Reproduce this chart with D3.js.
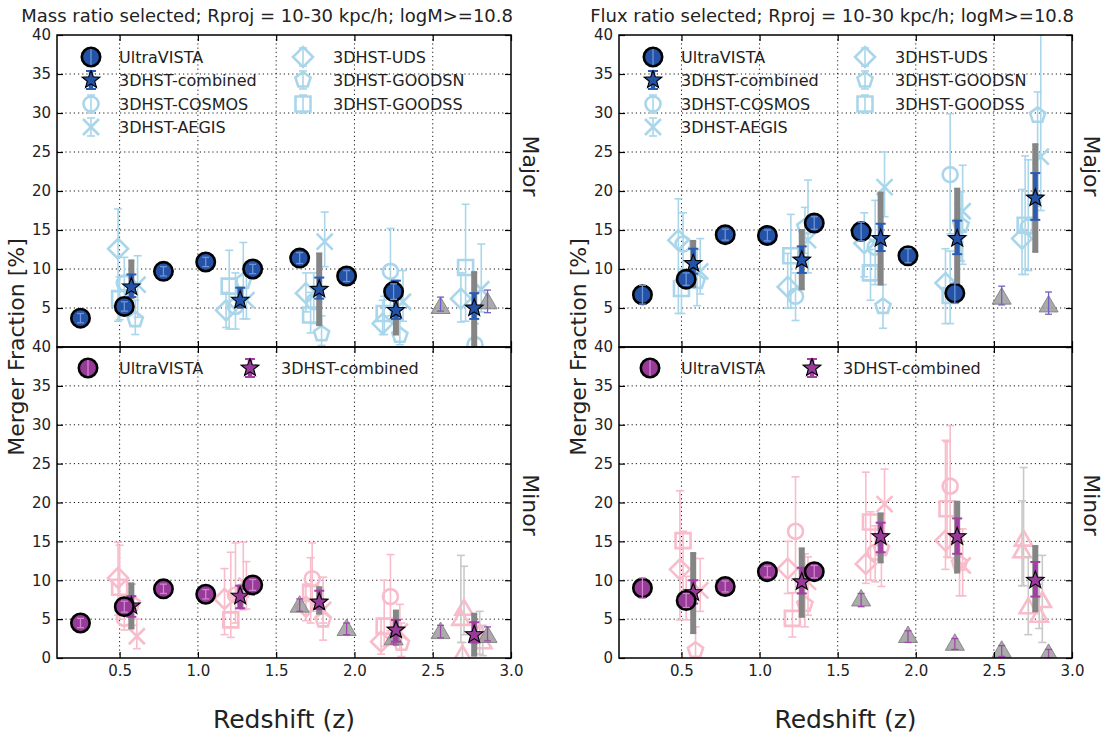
<!DOCTYPE html>
<html>
<head>
<meta charset="utf-8">
<script src="https://cdn.jsdelivr.net/npm/d3@7"></script>
<style>
  body { margin: 0; background: #fff; }
  text { font-family: "DejaVu Sans", sans-serif; fill: #222; }
</style>
</head>
<body>
<svg id="chart" width="1108" height="738"></svg>
<script>
// ---------------- data ----------------
const xTickValues = [0.5, 1.0, 1.5, 2.0, 2.5, 3.0];
const yTickValues = [0, 5, 10, 15, 20, 25, 30, 35, 40];

// UltraVISTA merger fractions [%]
const uvZ = [0.25, 0.53, 0.78, 1.05, 1.35, 1.65, 1.95, 2.25];
const uvMassMajor = [3.7, 5.2, 9.7, 10.9, 10.0, 11.4, 9.1, 7.1];
const uvMassMajorErr = [0.6, 0.6, 0.6, 0.6, 0.6, 0.7, 0.7, 1.0];
const uvMassMinor = [4.5, 6.6, 8.9, 8.2, 9.4];
const uvMassMinorErr = [0.6, 0.7, 0.6, 0.6, 0.7];
const uvFluxMajor = [6.7, 8.7, 14.4, 14.3, 15.9, 14.8, 11.7, 6.9];
const uvFluxMajorErr = [1.2, 0.8, 0.7, 0.7, 0.8, 1.2, 0.9, 1.3];
const uvFluxMinor = [9.0, 7.4, 9.2, 11.1, 11.1];
const uvFluxMinorErr = [1.3, 0.9, 0.7, 0.7, 0.8];

// 3DHST combined: [value, lo, hi] and systematic range [lo, hi]
const combZ = [0.575, 1.27, 1.775, 2.265, 2.765];
const combMassMajor = [[7.7, 6.4, 9.3], [6.0, 5.1, 7.6], [7.4, 6.2, 8.9], [4.7, 3.6, 8.5], [5.0, 3.6, 6.9]];
const combMassMajorSys = [[6.3, 11.1], [5.0, 7.6], [2.8, 12.0], [1.6, 8.5], [0, 9.6]];
const combMassMinor = [[6.7, 5.3, 7.95], [7.95, 6.4, 9.3], [7.2, 6.3, 8.65], [3.6, 2.1, 4.9], [3.0, 2.0, 4.6]];
const combMassMinorSys = [[3.8, 9.6], [6.4, 9.3], [5.7, 9.1], [1.7, 6.1], [0.3, 5.7]];
const combFluxMajor = [[10.7, 9.4, 12.6], [11.15, 9.5, 12.9], [13.9, 12.3, 15.8], [13.9, 11.9, 16.2], [19.1, 16.3, 22.3]];
const combFluxMajorSys = [[7.7, 13.6], [7.4, 15.0], [8.0, 19.8], [6.9, 20.3], [12.2, 26.0]];
const combFluxMinor = [[8.4, 7.0, 10.0], [9.8, 8.3, 11.6], [15.6, 13.6, 17.4], [15.6, 13.4, 17.95], [10.0, 7.9, 12.35]];
const combFluxMinorSys = [[3.2, 13.5], [5.3, 14.1], [12.3, 18.6], [11.0, 20.1], [6.0, 14.4]];

// individual 3DHST fields: [z, value, lo, hi]
const cosmosMassMajor = [[0.53, 8.2, 4.0, 11.5], [1.24, 5.2, 2.3, 9.5], [1.74, 5.8, 3.0, 9.5], [2.23, 9.7, 4.0, 15.2], [2.77, 0.3, 0, 3.0]];
const aegisMassMajor = [[0.615, 8.0, 3.8, 11.7], [1.31, 6.0, 3.6, 9.5], [1.81, 13.5, 10.3, 17.3], [2.31, 5.8, 3.3, 9.8], [2.81, 7.4, 4.5, 13.2]];
const udsMassMajor = [[0.49, 12.6, 3.3, 17.7], [1.18, 4.7, 2.5, 7.0], [1.69, 6.9, 4.5, 9.5], [2.18, 3.0, 1.6, 6.0], [2.68, 6.2, 3.2, 9.5]];
const goodsnMassMajor = [[0.60, 3.5, 1.6, 6.0], [1.29, 8.4, 3.6, 13.4], [1.79, 1.7, 0.2, 4.0], [2.29, 1.5, 0.3, 3.5]];
const goodssMassMajor = [[0.50, 6.2, 3.5, 9.0], [1.20, 7.8, 2.3, 12.4], [1.72, 4.1, 1.8, 7.0], [2.19, 4.3, 1.6, 6.5], [2.71, 10.2, 3.3, 18.3]];

const cosmosMassMinor = [[0.53, 5.1, 3.6, 8.0], [1.24, 8.1, 4.5, 14.8], [1.73, 10.2, 6.0, 14.8], [2.23, 7.9, 3.5, 13.3]];
const aegisMassMinor = [[0.61, 2.8, 1.2, 5.0], [1.31, 9.3, 6.3, 12.4], [1.80, 6.2, 4.5, 10.4], [2.29, 3.4, 1.0, 6.9]];
const udsMassMinor = [[0.49, 10.3, 5.5, 14.9], [1.17, 7.6, 3.0, 11.5], [1.69, 6.6, 4.8, 9.5], [2.17, 2.1, 0.5, 5.0]];
const goodsnMassMinor = [[0.58, 7.0, 4.2, 9.5], [1.29, 8.7, 6.2, 14.9], [1.80, 4.9, 2.3, 7.5], [2.30, 1.9, 0.2, 4.5]];
const goodssMassMinor = [[0.50, 9.1, 5.0, 14.5], [1.21, 4.9, 2.65, 13.6], [1.72, 8.3, 4.5, 12.9], [2.19, 4.1, 1.5, 10.0]];
const highZMassMinor = [[2.70, 6.2, 3.0, 11.8], [2.68, 4.9, 2.0, 13.2], [2.69, 0.3, 0, 2.0], [2.82, 1.9, 0.3, 4.2], [2.80, 3.0, 0.5, 6.0]];

const cosmosFluxMajor = [[0.51, 13.2, 8.0, 17.2], [1.23, 6.5, 3.4, 9.5], [1.74, 12.8, 8.0, 18.8], [2.22, 22.1, 14.5, 29.9], [2.72, 15.4, 9.8, 24.0]];
const aegisFluxMajor = [[0.62, 9.7, 6.8, 13.9], [1.31, 13.7, 9.5, 21.4], [1.80, 20.5, 16.7, 25.0], [2.30, 17.4, 10.6, 23.3], [2.80, 24.4, 17.5, 40.0]];
const udsFluxMajor = [[0.48, 13.7, 4.3, 19.0], [1.18, 7.7, 5.0, 12.0], [1.67, 13.3, 9.0, 17.2], [2.19, 8.2, 3.0, 12.6], [2.68, 13.9, 9.3, 20.2]];
const goodsnFluxMajor = [[0.60, 8.4, 5.3, 12.5], [1.29, 15.4, 12.0, 17.9], [1.79, 5.2, 2.4, 8.0], [2.29, 15.6, 11.0, 19.9], [2.78, 29.7, 18.0, 32.7]];
const goodssFluxMajor = [[0.50, 7.5, 4.3, 10.0], [1.20, 11.7, 5.0, 17.0], [1.71, 9.5, 6.0, 12.5], [2.22, 6.6, 3.0, 12.3], [2.70, 15.6, 9.3, 24.5]];

const cosmosFluxMinor = [[0.53, 7.4, 4.9, 10.5], [1.23, 16.3, 8.4, 23.3], [1.74, 13.6, 9.8, 17.0], [2.22, 22.1, 12.9, 29.9]];
const aegisFluxMinor = [[0.62, 8.7, 6.0, 12.8], [1.31, 9.8, 5.5, 13.0], [1.80, 19.8, 16.0, 24.3], [2.30, 11.9, 8.0, 16.6]];
const udsFluxMinor = [[0.49, 11.4, 4.9, 21.5], [1.18, 11.5, 8.3, 15.0], [1.68, 12.1, 9.6, 23.9], [2.19, 15.1, 11.4, 28.0]];
const goodsnFluxMinor = [[0.59, 1.0, 0, 4.0], [1.29, 6.9, 4.0, 13.4], [1.78, 14.1, 9.2, 18.5], [2.28, 12.2, 8.0, 16.6]];
const goodssFluxMinor = [[0.51, 15.1, 8.0, 16.3], [1.21, 5.1, 2.7, 8.4], [1.71, 17.5, 10.0, 18.8], [2.20, 19.2, 13.0, 27.8]];
const highZFluxMinor = [[2.69, 15.1, 9.3, 24.5], [2.68, 13.6, 9.3, 20.2], [2.72, 6.4, 3.0, 13.0], [2.81, 7.2, 2.0, 13.2], [2.79, 5.3, 3.8, 9.5]];

// reference sample (grey triangles): [value, lo, hi]
const refZMajor = [2.55, 2.85];
const refMassMajor = [[5.0, 4.6, 6.4], [5.6, 4.4, 7.3]];
const refFluxMajor = [[6.2, 5.4, 7.8], [5.2, 4.2, 7.05]];
const refZMinor = [1.65, 1.95, 2.25, 2.55, 2.85];
const refMassMinor = [[6.6, 6.0, 7.6], [3.6, 3.0, 4.5], [2.4, 1.8, 3.2], [3.2, 2.6, 4.2], [2.7, 2.2, 4.0]];
const refFluxMinor = [[7.4, 6.6, 8.3], [2.7, 2.0, 3.5], [1.7, 1.1, 2.5], [0.8, 0.2, 1.6], [0.4, 0, 1.1]];

const fieldNames = ["3DHST-COSMOS", "3DHST-AEGIS", "3DHST-UDS", "3DHST-GOODSN", "3DHST-GOODSS"];
const fieldShapes = ["circle", "x", "diamond", "pentagon", "square"];
const titles = ["Mass ratio selected; Rproj = 10-30 kpc/h; logM>=10.8",
                "Flux ratio selected; Rproj = 10-30 kpc/h; logM>=10.8"];
const rowNames = ["Major", "Minor"];

// ---------------- layout / style ----------------
const COLS = [[57, 511], [619, 1072]];
const ROWS = [[35, 347], [347, 658]];
const fieldSize = { circle: 7.5, x: 8, diamond: 10, pentagon: 8, square: 7.5, triangle: 9 };
const UV_R = 9.2, STAR_R = 9.3, REF_R = 11;
const palettes = [
  { main: "#2352a6", bar: "#2b5cb4", line: "#6d95d6", light: "#a9d6ea", refErr: "#6e62c0" },
  { main: "#983a98", bar: "#a23ea4", line: "#cf86cf", light: "#f8bccb", refErr: "#a247ad" }
];

const panels = [
  { col: 0, row: 0, uv: uvMassMajor, uvErr: uvMassMajorErr, comb: combMassMajor, sys: combMassMajorSys,
    refZ: refZMajor, ref: refMassMajor, fields: [cosmosMassMajor, aegisMassMajor, udsMassMajor, goodsnMassMajor, goodssMassMajor], highZ: [] },
  { col: 0, row: 1, uv: uvMassMinor, uvErr: uvMassMinorErr, comb: combMassMinor, sys: combMassMinorSys,
    refZ: refZMinor, ref: refMassMinor, fields: [cosmosMassMinor, aegisMassMinor, udsMassMinor, goodsnMassMinor, goodssMassMinor], highZ: highZMassMinor },
  { col: 1, row: 0, uv: uvFluxMajor, uvErr: uvFluxMajorErr, comb: combFluxMajor, sys: combFluxMajorSys,
    refZ: refZMajor, ref: refFluxMajor, fields: [cosmosFluxMajor, aegisFluxMajor, udsFluxMajor, goodsnFluxMajor, goodssFluxMajor], highZ: [] },
  { col: 1, row: 1, uv: uvFluxMinor, uvErr: uvFluxMinorErr, comb: combFluxMinor, sys: combFluxMinorSys,
    refZ: refZMinor, ref: refFluxMinor, fields: [cosmosFluxMinor, aegisFluxMinor, udsFluxMinor, goodsnFluxMinor, goodssFluxMinor], highZ: highZFluxMinor }
];

const svg = d3.select("#chart");

// marker outlines centred on (0,0)
function shapePath(type, r) {
  const poly = (n, rot, rr) => {
    const pts = [];
    for (let i = 0; i < n; i++) {
      const a = rot + i * 2 * Math.PI / n;
      const rad = Array.isArray(rr) ? rr[i % 2] : rr;
      pts.push([rad * Math.cos(a), rad * Math.sin(a)]);
    }
    return "M" + pts.map(p => p[0].toFixed(2) + "," + p[1].toFixed(2)).join("L") + "Z";
  };
  switch (type) {
    case "circle": return `M${r},0A${r},${r} 0 1,1 ${-r},0A${r},${r} 0 1,1 ${r},0Z`;
    case "diamond": return `M0,${-r}L${r},0L0,${r}L${-r},0Z`;
    case "square": return `M${-r},${-r}H${r}V${r}H${-r}Z`;
    case "x": return `M${-r},${-r}L${r},${r}M${-r},${r}L${r},${-r}`;
    case "pentagon": return poly(5, -Math.PI / 2, r);
    case "triangle": return poly(3, -Math.PI / 2, r);
    case "star": return poly(10, -Math.PI / 2, [r, r * 0.42]);
  }
}

function errBar(g, cx, yA, yB, color, width, cap, capWidth) {
  g.append("line").attr("x1", cx).attr("x2", cx).attr("y1", yA).attr("y2", yB)
    .attr("stroke", color).attr("stroke-width", width);
  if (cap > 0) {
    [yA, yB].forEach(yy => g.append("line")
      .attr("x1", cx - cap).attr("x2", cx + cap).attr("y1", yy).attr("y2", yy)
      .attr("stroke", color).attr("stroke-width", capWidth || 1.5));
  }
}

function marker(g, cx, cy, type, r, fill, stroke, sw) {
  g.append("path").attr("d", shapePath(type, r))
    .attr("transform", `translate(${cx},${cy})`)
    .attr("fill", fill).attr("stroke", stroke).attr("stroke-width", sw)
    .attr("stroke-linejoin", "miter");
}

panels.forEach((p, pi) => {
  const [x0, x1] = COLS[p.col];
  const [y0, y1] = ROWS[p.row];
  const pal = palettes[p.row];
  const x = d3.scaleLinear().domain([0.1, 3.0]).range([x0, x1]);
  const y = d3.scaleLinear().domain([0, 40]).range([y1, y0]);

  const g = svg.append("g");
  const clipId = "clip" + pi;
  svg.append("clipPath").attr("id", clipId)
    .append("rect").attr("x", x0).attr("y", y0).attr("width", x1 - x0).attr("height", y1 - y0);

  // dotted grid
  const grid = g.append("g").attr("stroke", "#000").attr("stroke-width", 0.9).attr("stroke-dasharray", "1.2,3");
  xTickValues.filter(v => v < 3).forEach(v =>
    grid.append("line").attr("x1", x(v)).attr("x2", x(v)).attr("y1", y0).attr("y2", y1));
  yTickValues.filter(v => v > 0 && v < 40).forEach(v =>
    grid.append("line").attr("x1", x0).attr("x2", x1).attr("y1", y(v)).attr("y2", y(v)));

  const plot = g.append("g").attr("clip-path", `url(#${clipId})`);

  // individual fields (open markers)
  p.fields.forEach((rows, fi) => {
    const shp = fieldShapes[fi];
    rows.forEach(([z, v, lo, hi]) => {
      errBar(plot, x(z), y(hi), y(lo), pal.light, 1.6, 4, 1.6);
      marker(plot, x(z), y(v), shp, fieldSize[shp], "none", pal.light, 2.6);
    });
  });
  // highest redshift bin drawn as open triangles
  p.highZ.forEach(([z, v, lo, hi]) => {
    errBar(plot, x(z), y(hi), y(lo), "#c9c9c9", 1.6, 4, 1.6);
    marker(plot, x(z), y(v), "triangle", fieldSize.triangle + 1, "none", pal.light, 2.6);
  });

  // systematic range of the combined sample
  p.sys.forEach(([lo, hi], i) => {
    errBar(plot, x(combZ[i]), y(hi), y(lo), "#858585", 6, 3, 2);
  });

  // reference sample (grey triangles)
  p.ref.forEach(([v, lo, hi], i) => {
    marker(plot, x(p.refZ[i]), y(v), "triangle", REF_R, "rgba(150,150,150,0.8)", "rgba(125,125,125,0.85)", 1);
    errBar(plot, x(p.refZ[i]), y(hi), y(lo), pal.refErr, 1.3, 3.5, 1.3);
  });

  // combined sample
  p.comb.forEach(([v, lo, hi], i) => {
    errBar(plot, x(combZ[i]), y(hi), y(lo), pal.bar, 4.5, 5, 2);
    marker(plot, x(combZ[i]), y(v), "star", STAR_R, pal.main, "#000", 1.1);
  });

  // UltraVISTA
  p.uv.forEach((v, i) => {
    marker(plot, x(uvZ[i]), y(v), "circle", UV_R, pal.main, "#000", 2.6);
    errBar(plot, x(uvZ[i]), y(v + p.uvErr[i]), y(v - p.uvErr[i]), pal.line, 1.3, 3.5, 1.3);
  });

  // axes with inward ticks
  const styleAxis = sel => {
    sel.select(".domain").remove();
    sel.selectAll(".tick line").attr("stroke", "#000").attr("stroke-width", 1.2);
    sel.selectAll("text").attr("font-size", 15).attr("font-family", "DejaVu Sans, sans-serif").attr("fill", "#222");
  };
  g.append("g").attr("transform", `translate(${x0},0)`)
    .call(d3.axisLeft(y).tickValues(yTickValues).tickSizeInner(-6).tickSizeOuter(0).tickPadding(6)
      .tickFormat(d => (p.row === 0 && d === 0) ? "" : d3.format("d")(d)))
    .call(styleAxis);
  g.append("g").attr("transform", `translate(${x1},0)`)
    .call(d3.axisRight(y).tickValues(yTickValues).tickSizeInner(-6).tickSizeOuter(0).tickFormat(""))
    .call(styleAxis);
  g.append("g").attr("transform", `translate(0,${y0})`)
    .call(d3.axisTop(x).tickValues(xTickValues).tickSizeInner(-6).tickSizeOuter(0).tickFormat(""))
    .call(styleAxis);
  g.append("g").attr("transform", `translate(0,${y1})`)
    .call(d3.axisBottom(x).tickValues(xTickValues).tickSizeInner(-6).tickSizeOuter(0).tickPadding(7)
      .tickFormat(p.row === 1 ? d3.format(".1f") : ""))
    .call(styleAxis);

  g.append("rect").attr("x", x0).attr("y", y0).attr("width", x1 - x0).attr("height", y1 - y0)
    .attr("fill", "none").attr("stroke", "#000").attr("stroke-width", 1.5);

  // row label on the right
  g.append("text").attr("transform", `translate(${x1 + 12},${p.row === 0 ? 166 : 505}) rotate(90)`)
    .attr("text-anchor", "middle").attr("font-size", 22).text(rowNames[p.row]);

  // legend
  const lg = g.append("g");
  const legendEntry = (mx, tx, cy, draw, label) => {
    draw(mx, cy);
    lg.append("text").attr("x", tx).attr("y", cy).attr("dy", "0.36em").attr("font-size", 16).text(label);
  };
  const drawUV = (mx, cy) => {
    marker(lg, mx, cy, "circle", UV_R, pal.main, "#000", 2.6);
    errBar(lg, mx, cy - 8, cy + 8, pal.line, 1.3, 0, 0);
  };
  const drawComb = (mx, cy) => {
    errBar(lg, mx, cy - 9, cy + 9, pal.bar, 4.5, 5, 2);
    marker(lg, mx, cy, "star", STAR_R, pal.main, "#000", 1.1);
  };
  if (p.row === 0) {
    const rowY = [22, 45, 69, 92].map(d => y0 + d);
    legendEntry(x0 + 34, x0 + 62, rowY[0], drawUV, "UltraVISTA");
    legendEntry(x0 + 34, x0 + 62, rowY[1], drawComb, "3DHST-combined");
    const slots = [[x0 + 34, x0 + 62, rowY[2]], [x0 + 34, x0 + 62, rowY[3]],
                   [x0 + 246, x0 + 276, rowY[0]], [x0 + 246, x0 + 276, rowY[1]], [x0 + 246, x0 + 276, rowY[2]]];
    fieldNames.forEach((name, fi) => {
      const [mx, tx, cy] = slots[fi];
      legendEntry(mx, tx, cy, (a, b) => {
        errBar(lg, a, b - 9, b + 9, pal.light, 1.6, 4, 1.6);
        marker(lg, a, b, fieldShapes[fi], fieldSize[fieldShapes[fi]], "none", pal.light, 2.6);
      }, name);
    });
  } else {
    const cy = y0 + 21;
    legendEntry(x0 + 31, x0 + 62, cy, drawUV, "UltraVISTA");
    legendEntry(x0 + 193, x0 + 224, cy, drawComb, "3DHST-combined");
  }
});

// column titles and axis labels
COLS.forEach(([x0, x1], c) => {
  svg.append("text").attr("x", x1 + 2).attr("y", 22).attr("text-anchor", "end")
    .attr("font-size", 18).text(titles[c]);
  svg.append("text").attr("x", (x0 + x1) / 2).attr("y", 728).attr("text-anchor", "middle")
    .attr("font-size", 25).text("Redshift (z)");
  svg.append("text").attr("transform", `translate(${x0 - 33},347) rotate(-90)`)
    .attr("text-anchor", "middle").attr("font-size", 22).text("Merger Fraction [%]");
});
</script>
</body>
</html>
